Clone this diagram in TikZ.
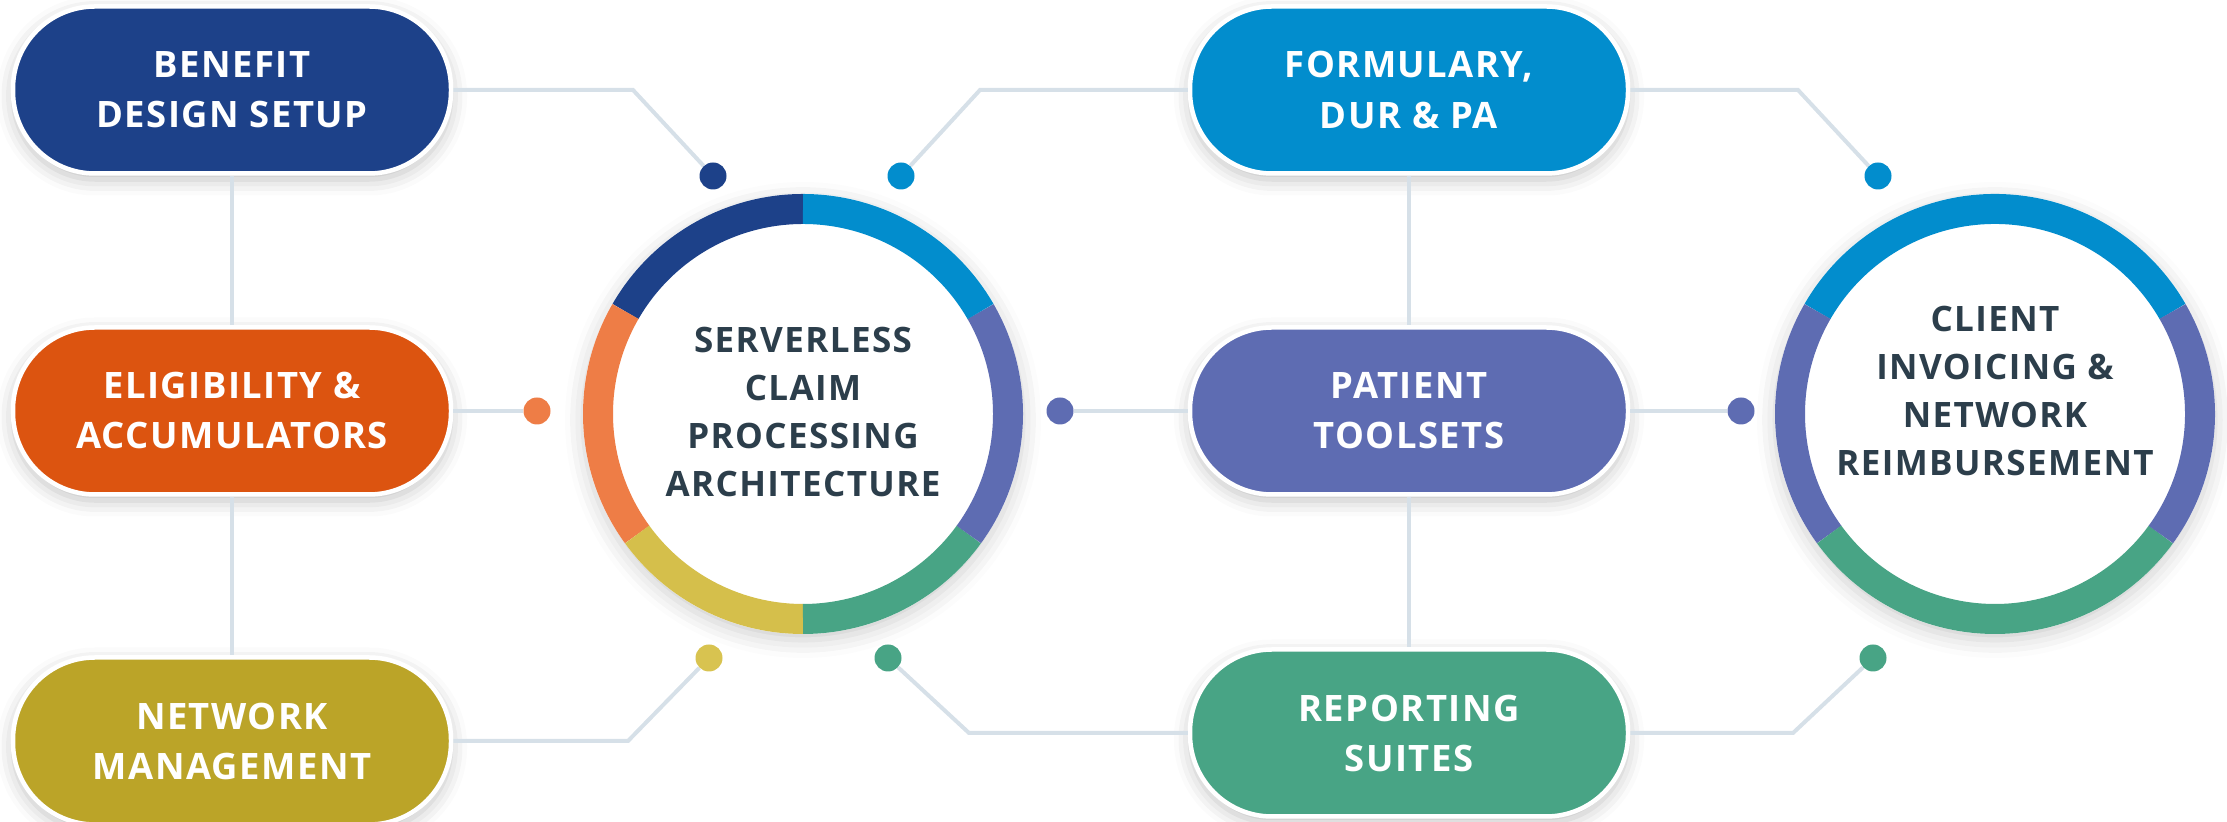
\documentclass[tikz,border=0pt]{standalone}
\usepackage{fontspec}
\setmainfont{Open Sans}[LetterSpace=4]
\usepackage{tikz}
\usetikzlibrary{shadows.blur}

\definecolor{bdsblue}{HTML}{1D4189}
\definecolor{eligred}{HTML}{DC5410}
\definecolor{netgold}{HTML}{BBA428}
\definecolor{formblue}{HTML}{028DCD}
\definecolor{patpurple}{HTML}{5E6CB2}
\definecolor{repgreen}{HTML}{48A485}
\definecolor{ringorange}{HTML}{EE7D46}
\definecolor{ringyellow}{HTML}{D5BF4B}
\definecolor{dotyellow}{HTML}{D8C350}
\definecolor{linkgray}{HTML}{D6E0E8}
\definecolor{hubink}{HTML}{2C3E4B}

\tikzset{
    pill/.style={draw=white, line width=2.25pt, rounded corners=41pt,
        minimum width=219pt, minimum height=83.5pt, align=center, text=white,
        font=\bfseries\fontsize{18.2}{25}\selectfont,
        blur shadow={shadow xshift=0pt, shadow yshift=-3pt, shadow opacity=25, shadow blur radius=8pt}},
    hub/.style={circle, fill=white, minimum size=220pt, inner sep=0pt,
        blur shadow={shadow xshift=0pt, shadow yshift=-3pt, shadow opacity=20, shadow blur radius=9pt}},
    hubtext/.style={align=center, text=hubink, font=\bfseries\fontsize{17.5}{24}\selectfont},
    ring/.style={line width=15pt},
    dot/.style={circle, inner sep=0pt, minimum size=13.5pt},
    link/.style={linkgray, line width=2pt},
}

\begin{document}
\begin{tikzpicture}[x=0.5pt, y=0.5pt]
    \useasboundingbox (0,0) rectangle (2227,822);

    % pills
    \node[pill, fill=bdsblue]   (bds)  at (232,732)  {BENEFIT\\DESIGN SETUP};
    \node[pill, fill=eligred]   (elig) at (232,411)  {ELIGIBILITY \&\\ACCUMULATORS};
    \node[pill, fill=netgold]   (netm) at (232,81)   {NETWORK\\MANAGEMENT};
    \node[pill, fill=formblue]  (form) at (1409,732) {FORMULARY,\\DUR \& PA};
    \node[pill, fill=patpurple] (pat)  at (1409,411) {PATIENT\\TOOLSETS};
    \node[pill, fill=repgreen]  (rep)  at (1409,89)  {REPORTING\\SUITES};

    % hubs
    \node[hub] (srv) at (803,408) {};
    \node[hub] (cli) at (1995,408) {};
    \node[hubtext] (srvtxt) at (803,410)  {SERVERLESS\\CLAIM\\PROCESSING\\ARCHITECTURE};
    \node[hubtext] (clitxt) at (1995,431) {CLIENT\\INVOICING \&\\NETWORK\\REIMBURSEMENT};

    \draw[ring, bdsblue]    (srv.center) ++(90:205)  arc[start angle=90,  end angle=150, radius=205]; % top left
    \draw[ring, ringorange] (srv.center) ++(150:205) arc[start angle=150, end angle=216, radius=205]; % left
    \draw[ring, ringyellow] (srv.center) ++(216:205) arc[start angle=216, end angle=270, radius=205]; % bottom left
    \draw[ring, repgreen]   (srv.center) ++(270:205) arc[start angle=270, end angle=324, radius=205]; % bottom right
    \draw[ring, patpurple]  (srv.center) ++(324:205) arc[start angle=324, end angle=390, radius=205]; % right
    \draw[ring, formblue]   (srv.center) ++(30:205)  arc[start angle=30,  end angle=90,  radius=205]; % top right

    \draw[ring, formblue]   (cli.center) ++(30:205)  arc[start angle=30,  end angle=150, radius=205]; % top
    \draw[ring, patpurple]  (cli.center) ++(150:205) arc[start angle=150, end angle=216, radius=205]; % left
    \draw[ring, repgreen]   (cli.center) ++(216:205) arc[start angle=216, end angle=324, radius=205]; % bottom
    \draw[ring, patpurple]  (cli.center) ++(324:205) arc[start angle=324, end angle=390, radius=205]; % right

    % dots
    \node[dot, fill=bdsblue]    (d1) at (713,646)  {};
    \node[dot, fill=formblue]   (d2) at (901,646)  {};
    \node[dot, fill=ringorange] (d3) at (537,411)  {};
    \node[dot, fill=patpurple]  (d4) at (1060,411) {};
    \node[dot, fill=dotyellow]  (d5) at (709,164)  {};
    \node[dot, fill=repgreen]   (d6) at (888,164)  {};
    \node[dot, fill=formblue]   (d7) at (1878,646) {};
    \node[dot, fill=patpurple]  (d8) at (1741,411) {};
    \node[dot, fill=repgreen]   (d9) at (1873,164) {};

    % elbows
    \coordinate (k1) at (633,732);
    \coordinate (k2) at (980,732);
    \coordinate (k3) at (1798,732);
    \coordinate (k4) at (628,81);
    \coordinate (k5) at (969,89);
    \coordinate (k6) at (1793,89);

    % links
    \draw[link] (bds.east) -- (k1) -- (d1);
    \draw[link] (bds.south) -- (elig.north);
    \draw[link] (elig.south) -- (netm.north);
    \draw[link] (elig.east) -- (d3);
    \draw[link] (netm.east) -- (k4) -- (d5);
    \draw[link] (form.west) -- (k2) -- (d2);
    \draw[link] (form.east) -- (k3) -- (d7);
    \draw[link] (form.south) -- (pat.north);
    \draw[link] (pat.south) -- (rep.north);
    \draw[link] (d4) -- (pat.west);
    \draw[link] (pat.east) -- (d8);
    \draw[link] (d6) -- (k5) -- (rep.west);
    \draw[link] (rep.east) -- (k6) -- (d9);

\end{tikzpicture}
\end{document}
